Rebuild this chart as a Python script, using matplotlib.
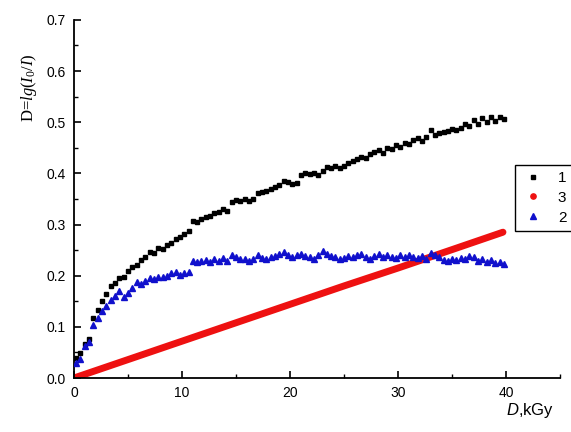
import matplotlib
matplotlib.use("Agg")
import matplotlib.pyplot as plt
from matplotlib.lines import Line2D
from matplotlib.ticker import MultipleLocator

plt.rcParams['font.family'] = ['Liberation Sans', 'DejaVu Sans']
plt.rcParams['mathtext.fontset'] = 'custom'
plt.rcParams['mathtext.rm'] = 'Liberation Serif'
plt.rcParams['mathtext.it'] = 'Liberation Serif:italic'
plt.rcParams['mathtext.sf'] = 'Liberation Sans:italic'

# dose grid for curves 1 and 2, kGy
dose = [0.2, 0.6, 1.0, 1.4, 1.8, 2.2, 2.6, 3.0, 3.4, 3.8,
        4.2, 4.6, 5.0, 5.4, 5.8, 6.2, 6.6, 7.0, 7.4, 7.8,
        8.2, 8.6, 9.0, 9.4, 9.8, 10.2, 10.6, 11.0, 11.4, 11.8,
        12.2, 12.6, 13.0, 13.4, 13.8, 14.2, 14.6, 15.0, 15.4, 15.8,
        16.2, 16.6, 17.0, 17.4, 17.8, 18.2, 18.6, 19.0, 19.4, 19.8,
        20.2, 20.6, 21.0, 21.4, 21.8, 22.2, 22.6, 23.0, 23.4, 23.8,
        24.2, 24.6, 25.0, 25.4, 25.8, 26.2, 26.6, 27.0, 27.4, 27.8,
        28.2, 28.6, 29.0, 29.4, 29.8, 30.2, 30.6, 31.0, 31.4, 31.8,
        32.2, 32.6, 33.0, 33.4, 33.8, 34.2, 34.6, 35.0, 35.4, 35.8,
        36.2, 36.6, 37.0, 37.4, 37.8, 38.2, 38.6, 39.0, 39.4, 39.8]

curve1 = [0.040, 0.048, 0.066, 0.076, 0.118, 0.132, 0.150, 0.165, 0.180, 0.186,
          0.195, 0.198, 0.210, 0.217, 0.220, 0.230, 0.236, 0.247, 0.245, 0.254,
          0.252, 0.260, 0.264, 0.272, 0.276, 0.282, 0.287, 0.306, 0.304, 0.310,
          0.314, 0.316, 0.322, 0.325, 0.330, 0.326, 0.344, 0.348, 0.346, 0.349,
          0.346, 0.350, 0.362, 0.363, 0.366, 0.370, 0.374, 0.378, 0.386, 0.384,
          0.380, 0.382, 0.396, 0.401, 0.398, 0.400, 0.397, 0.405, 0.413, 0.410,
          0.414, 0.411, 0.414, 0.420, 0.424, 0.428, 0.432, 0.430, 0.437, 0.442,
          0.445, 0.440, 0.449, 0.447, 0.456, 0.452, 0.460, 0.457, 0.466, 0.469,
          0.464, 0.472, 0.485, 0.474, 0.478, 0.480, 0.483, 0.486, 0.484, 0.489,
          0.497, 0.492, 0.505, 0.496, 0.508, 0.500, 0.510, 0.502, 0.511, 0.506]

curve2 = [0.030, 0.038, 0.062, 0.070, 0.104, 0.118, 0.130, 0.140, 0.152, 0.160,
          0.170, 0.158, 0.166, 0.176, 0.188, 0.184, 0.190, 0.196, 0.194, 0.198,
          0.198, 0.199, 0.205, 0.208, 0.202, 0.206, 0.208, 0.228, 0.226, 0.228,
          0.231, 0.226, 0.232, 0.228, 0.234, 0.229, 0.241, 0.236, 0.233, 0.232,
          0.229, 0.233, 0.240, 0.234, 0.232, 0.236, 0.238, 0.242, 0.246, 0.240,
          0.236, 0.240, 0.243, 0.238, 0.236, 0.233, 0.240, 0.249, 0.243, 0.238,
          0.236, 0.232, 0.234, 0.238, 0.236, 0.240, 0.242, 0.236, 0.233, 0.238,
          0.243, 0.236, 0.240, 0.237, 0.234, 0.240, 0.236, 0.241, 0.237, 0.234,
          0.238, 0.232, 0.245, 0.240, 0.236, 0.230, 0.228, 0.232, 0.230, 0.234,
          0.233, 0.238, 0.236, 0.229, 0.233, 0.226, 0.230, 0.224, 0.227, 0.222]

# curve 3 is so dense it reads as a solid line
dose3 = [0.0, 5.0, 10.0, 15.0, 20.0, 25.0, 30.0, 35.0, 39.7]
curve3 = [0.000, 0.036, 0.072, 0.108, 0.144, 0.180, 0.215, 0.251, 0.285]

fig = plt.figure(figsize=(5.71, 4.32), dpi=100)
ax = fig.add_axes([0.1296, 0.125, 0.8515, 0.829])

ax.plot(dose3, curve3, color='#ee1111', lw=5, solid_capstyle='round', zorder=2)
ax.plot(dose, curve1, ls='none', marker='s', ms=3.5, color='black', zorder=3)
ax.plot(dose, curve2, ls='none', marker='^', ms=4.2, color='#1010cc', zorder=3)

ax.set_xlim(0, 45)
ax.set_ylim(0, 0.7)
ax.xaxis.set_major_locator(MultipleLocator(10))
ax.xaxis.set_minor_locator(MultipleLocator(5))
ax.yaxis.set_major_locator(MultipleLocator(0.1))
ax.yaxis.set_minor_locator(MultipleLocator(0.05))
ax.yaxis.set_major_formatter(matplotlib.ticker.FormatStrFormatter('%.1f'))

for s in ['top', 'right']:
    ax.spines[s].set_visible(False)
for s in ['left', 'bottom']:
    ax.spines[s].set_linewidth(1.3)

ax.tick_params(which='major', direction='in', length=5, width=1.2, labelsize=10, pad=6)
ax.tick_params(which='minor', direction='in', length=3, width=1.0)

ax.set_ylabel(r'D=$lg(I_0/I)$', fontsize=12, family='Liberation Serif')
ax.yaxis.set_label_coords(-0.072, 0.81)
ax.set_xlabel(r'$\mathsf{D}$,kGy', fontsize=12)
ax.xaxis.set_label_coords(0.937, -0.065)

handles = [Line2D([], [], ls='none', marker='s', ms=3.5, color='black'),
           Line2D([], [], ls='none', marker='o', ms=3.8, color='#ee1111'),
           Line2D([], [], ls='none', marker='^', ms=4.2, color='#1010cc')]
leg = ax.legend(handles, ['1', '3', '2'], loc='upper left',
                bbox_to_anchor=(0.907, 0.595), fontsize=11, frameon=True,
                fancybox=False, edgecolor='black', framealpha=1,
                handlelength=1.6, handletextpad=0.8, labelspacing=0.38,
                borderpad=0.4, borderaxespad=0)
leg.get_frame().set_linewidth(1.0)

fig.savefig('out.png', dpi=100)
